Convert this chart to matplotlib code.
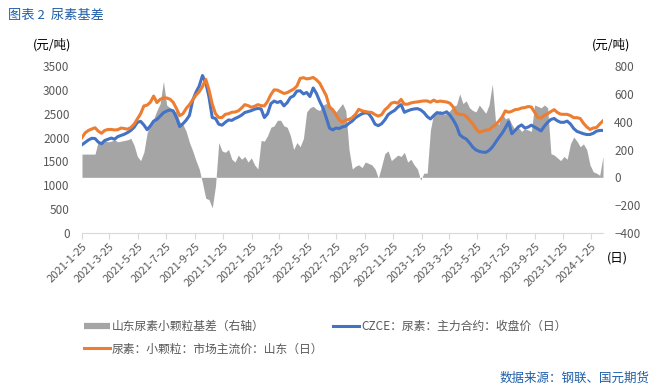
import pandas as pd
import matplotlib
matplotlib.use("Agg")
import matplotlib.pyplot as plt
from matplotlib.lines import Line2D

plt.rcParams['font.family'] = ['Noto Sans CJK SC', 'DejaVu Sans']

# weekly readings, 2021-1-25 onwards
dates = pd.date_range('2021-01-25', periods=161, freq='7D')

# 山东尿素小颗粒基差 (right axis)
basis = [167, 167, 167, 167, 167, 260, 250, 265, 255, 260,
         270, 255, 260, 265, 270, 280, 230, 150, 120, 180,
         320, 380, 420, 480, 530, 690, 520, 500, 480, 470,
         400, 380, 330, 250, 190, 120, 60, -40, -150, -160,
         -220, -60, 250, 190, 180, 200, 130, 110, 160, 130,
         150, 110, 140, 90, 60, 265, 260, 300, 360, 370,
         410, 410, 370, 360, 300, 200, 250, 220, 280, 470,
         500, 510, 490, 480, 520, 530, 520, 500, 470, 500,
         530, 480, 200, 60, 80, 90, 70, 110, 100, 90,
         60, -5, 80, 170, 190, 120, 140, 160, 150, 180,
         110, 130, 90, 60, -20, 30, 30, 340, 460, 470,
         480, 450, 460, 480, 510, 520, 600, 530, 550, 500,
         480, 470, 520, 490, 460, 520, 670, 400, 380, 460,
         420, 430, 380, 340, 360, 330, 350, 340, 330, 520,
         510, 500, 520, 500, 170, 160, 140, 120, 150, 130,
         240, 290, 260, 220, 240, 200, 90, 40, 30, 15,
         150]

# CZCE 主力合约收盘价
czce = [1850, 1900, 1950, 1985, 1980, 1905, 1870, 1940, 1965, 1990,
        1965, 2020, 2045, 2070, 2105, 2150, 2215, 2320, 2340, 2265,
        2165, 2245, 2345, 2380, 2450, 2520, 2555, 2580, 2560, 2420,
        2230, 2290, 2365, 2465, 2780, 2950, 3080, 3300, 3150, 2850,
        2420, 2400, 2280, 2260, 2320, 2370, 2360, 2400, 2430, 2470,
        2525, 2545, 2565, 2595, 2610, 2600, 2420, 2500, 2710, 2765,
        2735, 2760, 2665, 2730, 2840, 2875, 2975, 2980, 2915, 2945,
        2860, 3040, 2925, 2760, 2620, 2420, 2200, 2160, 2200, 2190,
        2225, 2240, 2300, 2346, 2417, 2460, 2500, 2520, 2505, 2410,
        2280, 2250, 2290, 2370, 2480, 2530, 2570, 2640, 2690, 2530,
        2560, 2585, 2600, 2607, 2580, 2525, 2440, 2390, 2460, 2523,
        2510, 2510, 2540, 2470, 2370, 2250, 2060, 2005, 1970, 1890,
        1800, 1740, 1711, 1695, 1690, 1730, 1800, 1900, 2000, 2090,
        2200, 2330, 2080, 2150, 2225, 2265, 2200, 2220, 2260, 2220,
        2180, 2140, 2240, 2320, 2380, 2400, 2350, 2320, 2320, 2345,
        2285, 2190, 2130, 2105, 2080, 2064, 2064, 2090, 2134, 2150,
        2150]

# 山东小颗粒市场主流价
spot = [2000, 2100, 2150, 2180, 2206, 2134, 2090, 2150, 2170, 2170,
        2160, 2165, 2200, 2190, 2175, 2210, 2280, 2390, 2500, 2662,
        2680, 2740, 2870, 2734, 2800, 2830, 2830, 2805, 2740, 2610,
        2460, 2500, 2610, 2690, 2790, 2890, 2960, 3070, 3220, 3000,
        2700, 2500, 2420, 2420, 2487, 2500, 2530, 2536, 2560, 2620,
        2690, 2670, 2635, 2655, 2690, 2670, 2662, 2760, 2900, 3000,
        2995, 2960, 2925, 2940, 2980, 3015, 3080, 3240, 3255, 3230,
        3240, 3260, 3210, 3140, 3010, 2880, 2640, 2580, 2480, 2370,
        2320, 2370, 2380, 2417, 2487, 2593, 2560, 2545, 2533, 2525,
        2480, 2450, 2480, 2580, 2640, 2720, 2740, 2720, 2800, 2700,
        2700, 2725, 2740, 2747, 2760, 2768, 2768, 2740, 2785, 2750,
        2765, 2755, 2745, 2720, 2640, 2510, 2487, 2485, 2445, 2370,
        2290, 2180, 2115, 2130, 2155, 2160, 2220, 2270, 2340, 2430,
        2560, 2530, 2550, 2585, 2593, 2620, 2628, 2650, 2640, 2530,
        2420, 2410, 2470, 2500, 2545, 2585, 2525, 2490, 2487, 2487,
        2460, 2417, 2417, 2400, 2300, 2225, 2170, 2200, 2210, 2285,
        2350]

tick_dates = [pd.Timestamp(2021 + m // 12, m % 12 + 1, 25) for m in range(0, 37, 2)]
tick_labels = [f"{d.year}-{d.month}-{d.day}" for d in tick_dates]

names = ['山东尿素小颗粒基差（右轴）', 'CZCE：尿素：主力合约：收盘价（日）',
         '尿素：小颗粒：市场主流价：山东（日）']
c_gray, c_blue, c_orange = '#a5a5a5', '#4472c4', '#ed7d31'
txt = '#595959'
axc = '#d9d9d9'

fig = plt.figure(figsize=(6.56, 3.89), dpi=100)
ax = fig.add_axes([82/656, 1-233/389, 521/656, 167/389])
ax2 = ax.twinx()

ax2.fill_between(dates, 0, basis, color=c_gray, lw=0)
ax.plot(dates, czce, color=c_blue, lw=2.2)
ax.plot(dates, spot, color=c_orange, lw=2.2)
ax.set_zorder(ax2.get_zorder() + 1)
ax.patch.set_visible(False)

ax.set_ylim(0, 3500)
ax2.set_ylim(-400, 800)
ax.set_yticks(range(0, 3501, 500))
ax2.set_yticks(range(-400, 801, 200))
ax.set_xlim(dates[0], dates[-1])
ax.set_xticks(tick_dates)
ax.set_xticklabels(tick_labels, rotation=45, ha='right', rotation_mode='anchor')

for a in (ax, ax2):
    for s in ['top', 'left', 'right']:
        a.spines[s].set_visible(False)
ax2.spines['bottom'].set_visible(False)
ax.spines['bottom'].set_color(axc)
ax.tick_params(axis='x', colors=txt, labelsize=8, length=4, color=axc, pad=2)
ax.tick_params(axis='y', colors=txt, labelsize=8.5, length=0, pad=9)
ax2.tick_params(axis='y', colors=txt, labelsize=8.5, length=0, pad=8)

fig.text(8/656, 1-15/389, '图表 2  尿素基差', color='#1f5ea8', fontsize=9.5, va='center')
fig.text(52/656, 1-45/389, '(元/吨)', color='black', fontsize=9, va='center', ha='center')
fig.text(611/656, 1-45/389, '(元/吨)', color='black', fontsize=9, va='center', ha='center')
fig.text(607/656, 1-258/389, '(日)', color='black', fontsize=9, va='center')
fig.text(650/656, 1-378/389, '数据来源：钢联、国元期货', color='#1f5ea8', fontsize=9,
         va='center', ha='right')

handles = [Line2D([], [], color=c_gray, lw=4.5, solid_capstyle='butt'),
           Line2D([], [], color=c_orange, lw=2.2),
           Line2D([], [], color=c_blue, lw=2.2)]
fig.legend(handles, [names[0], names[2], names[1]], ncol=2, loc='upper left',
           bbox_to_anchor=(84/656, 1-320/389), frameon=False, fontsize=8.5,
           labelcolor=txt, handlelength=2.2, handletextpad=0.15, borderpad=0,
           borderaxespad=0, columnspacing=0.85, labelspacing=0.8)

fig.savefig('out.png', dpi=100)
